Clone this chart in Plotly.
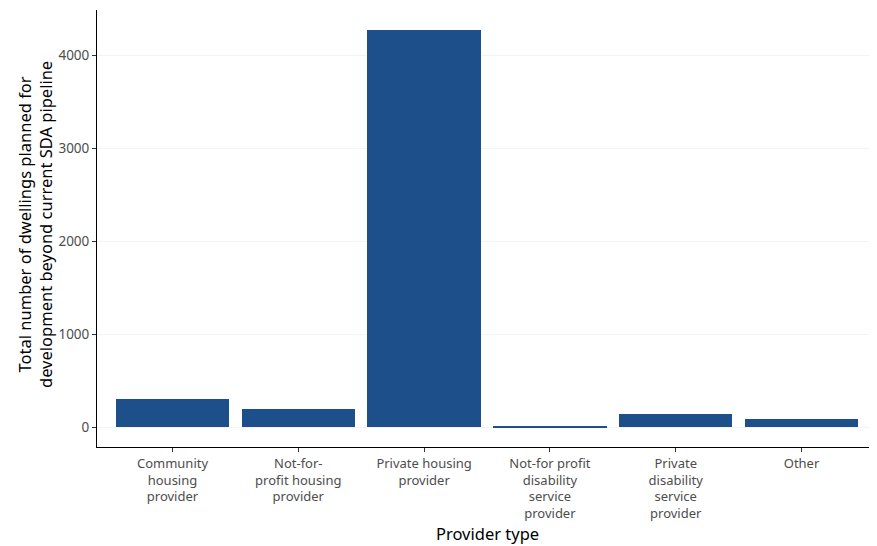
import plotly.graph_objects as go

categories = [
    "Community<br>housing<br>provider",
    "Not-for-<br>profit housing<br>provider",
    "Private housing<br>provider",
    "Not-for profit<br>disability<br>service<br>provider",
    "Private<br>disability<br>service<br>provider",
    "Other",
]
values = [298, 195, 4272, 12, 146, 92]
y_ticks = [0, 1000, 2000, 3000, 4000]
x_title = "Provider type"
y_title = "Total number of dwellings planned for<br>development beyond current SDA pipeline"

# page has an 8px body margin; compensate so the plot lands where the reference has it
OFF = 8
W, H = 877 - OFF, 546 - OFF
L, R, T, B = 97 - OFF, 0, 10 - OFF, 99
pw, ph = W - L - R, H - T - B

fig = go.Figure(go.Bar(
    x=list(range(len(categories))),
    y=values,
    width=0.9,
    marker=dict(color="#1d4f8a", line=dict(width=0)),
))

fig.update_layout(
    width=W, height=H,
    margin=dict(l=L, r=R, t=T, b=B),
    paper_bgcolor="white", plot_bgcolor="white",
    font=dict(family="Noto Sans", size=13, color="#4d4d4d"),
    showlegend=False,
    bargap=0,
)
fig.update_xaxes(
    range=[-0.6, 5.6], automargin=False,
    tickmode="array", tickvals=list(range(len(categories))), ticktext=categories,
    showline=True, linecolor="black", linewidth=1,
    ticks="outside", ticklen=4, tickcolor="#333333",
    showgrid=False, zeroline=False,
    tickfont=dict(size=13, color="#4d4d4d"),
)
fig.update_yaxes(
    range=[-213.6, 4485.6], automargin=False,
    tickmode="array", tickvals=y_ticks, ticktext=[str(v) for v in y_ticks],
    showline=True, linecolor="black", linewidth=1,
    ticks="outside", ticklen=4, tickcolor="#333333",
    showgrid=True, gridcolor="#f3f3f3", zeroline=False,
    tickfont=dict(size=13.5, color="#4d4d4d"),
)
# titles placed at reference page pixel positions
fig.add_annotation(
    text=x_title, xref="paper", yref="paper",
    x=0.5, y=(T + ph - (533 - OFF)) / ph, xanchor="center", yanchor="middle",
    showarrow=False, font=dict(size=16.5, color="black"),
)
fig.add_annotation(
    text=y_title, xref="paper", yref="paper",
    x=((35 - OFF) - L) / pw, y=(T + ph - (225 - OFF)) / ph, xanchor="center", yanchor="middle",
    textangle=-90, showarrow=False, font=dict(size=16.5, color="black"),
)

fig.write_html("out.html")
